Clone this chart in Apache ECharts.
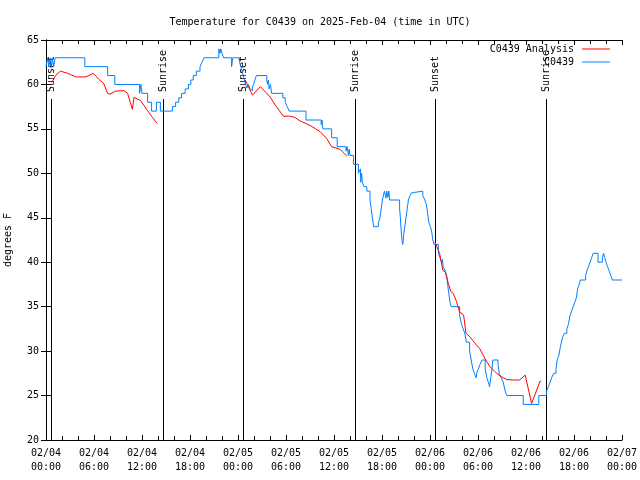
<!DOCTYPE html>
<html>
<head>
<meta charset="utf-8">
<script src="https://cdn.jsdelivr.net/npm/echarts@6/dist/echarts.min.js"></script>
<style>html,body{margin:0;padding:0;background:#fff}#c{width:640px;height:480px}</style>
</head>
<body>
<div id="c"></div>
<script>
// Hours since 02/04 00:00 UTC
const xTickLabels = ['02/04\n00:00','02/04\n06:00','02/04\n12:00','02/04\n18:00','02/05\n00:00','02/05\n06:00','02/05\n12:00','02/05\n18:00','02/06\n00:00','02/06\n06:00','02/06\n12:00','02/06\n18:00','02/07\n00:00'];
const yTicks = [20,25,30,35,40,45,50,55,60,65];

const sunTimes = [0.68, 14.67, 24.67, 38.67, 48.68, 62.55];
const sunLabels = ['Sunset','Sunrise','Sunset','Sunrise','Sunset','Sunrise'];

// Observations C0439 (step points [hour, degF])
const obsTemps = [
[0.0,62],[0.2,63],[0.35,62],[0.5,63],[0.65,62],[0.8,63],[0.95,62],[1.15,63],
[4.85,62],[7.7,61],[8.6,60],[11.7,59],[11.85,60],[12.0,59],[12.7,58],[13.2,57],[13.8,58],[14.3,57],
[15.8,57.5],[16.2,58],[16.6,58.5],[16.95,59],[17.4,59.5],[17.8,60],[18.1,60.5],[18.4,61],[18.8,61.5],[19.25,62],[19.5,62.5],[19.75,63],
[21.6,64],[21.75,63.5],[21.85,64],[22.0,63.5],[22.2,63],[23.2,62],[23.35,63],
[24.2,62.5],[24.35,62],[24.5,61.5],[24.65,61],[24.8,60.5],[24.95,60],[25.1,59.6],[25.3,60],[25.5,59.5],[25.65,59.3],[25.8,59.7],[25.95,60],[26.1,60.5],[26.3,61],
[27.6,60.5],[27.7,60],[27.8,60.5],[27.9,59.5],[28.05,60],[28.2,59],
[29.6,58.5],[29.9,58],[30.15,57.5],[30.4,57],[32.5,56],[34.4,55.5],[34.5,56],[34.6,55],[35.7,54],[36.4,53],
[37.5,52.5],[37.65,53],[37.8,52],[37.9,52.7],[38.0,52],[38.45,51],[39.05,50],[39.3,50.5],[39.35,49],[39.45,50],[39.55,49],[39.75,48.5],[40.1,48],
[40.5,47],[40.65,46],[40.8,45],[40.95,44],[41.55,44.5],[41.75,45],[41.9,46],[42.05,47],[42.3,48],[42.5,47.2],[42.6,48],[42.75,47.3],[42.85,48],[42.95,47],
[44.2,46],[44.3,45],[44.4,43.5],[44.5,42.5],[44.6,42],[44.7,43],[44.85,44],[45.0,45],[45.15,46],[45.3,47],[45.5,47.5],[45.7,47.8],[45.9,48],
[47.1,47.5],[47.35,47],[47.55,46.5],[47.7,45.5],[47.85,44.5],[48.05,44],[48.2,43.5],[48.35,42.5],[48.5,42],
[49.05,41],[49.25,40.5],[49.45,40],[49.55,40.3],[49.65,39.5],[49.9,39],[50.1,38.5],[50.2,37.5],[50.35,36.5],[50.5,35.5],[50.65,35],
[51.7,34],[51.95,33],[52.15,32.5],[52.35,32],[52.55,31],[52.95,30],[53.15,29],[53.35,28],[53.55,27.5],[53.75,27],[53.9,27.7],[54.05,28],[54.25,28.5],[54.5,29],
[54.9,28],[55.1,27],[55.3,26.5],[55.45,26],[55.6,27],[55.75,28],[55.85,29],
[56.5,28.5],[56.65,27.5],[56.9,27],[57.15,26.5],[57.4,25.5],[57.6,25],[59.65,24],[61.6,25],
[62.55,25.5],[62.8,26],[63.0,26.5],[63.2,27],[63.45,27.5],[63.75,28],[63.9,29],[64.1,29.5],[64.3,30.5],[64.55,31.5],[64.8,32],[65.1,32.5],[65.3,33],[65.5,34],[65.7,34.5],[65.9,35],[66.1,35.5],[66.3,36],[66.45,37],[66.65,37.5],[66.8,38],
[67.45,38.5],[67.6,39],[67.8,39.5],[68.0,40],[68.2,40.5],[68.4,41],[69.0,40],[69.55,40.5],[69.7,41],[69.85,40.5],[70.0,40],[70.2,39.5],[70.4,39],[70.6,38.5],[70.8,38],[72.0,38]
];

// Analysis segments [hour, degF]
const anaNight1 = [[0.7,60.2],[0.9,60.5],[1.2,61],[1.8,61.5],[2.7,61.25],[3.7,60.85],[5.0,60.85],[5.9,61.25],[6.6,60.6],[7.25,60.05],[7.7,59.0],[8.0,58.9],[8.7,59.25],[9.75,59.3],[10.2,59.0],[10.8,57.2],[11.0,58.55],[11.8,58.2],[12.7,57.05],[13.3,56.3],[13.9,55.6]];
const anaNight2 = [[24.9,60.5],[25.8,58.8],[26.8,59.75],[28.0,58.6],[28.8,57.5],[29.7,56.4],[30.3,56.45],[31.1,56.3],[31.75,55.9],[33.0,55.4],[34.25,54.7],[35.1,53.9],[35.7,53.0],[36.75,52.7],[37.6,51.95]];
const anaNight3 = [[48.6,42.3],[48.75,42.1],[49.2,41.0],[49.6,39.1],[49.9,38.9],[50.3,37.6],[50.6,36.7],[50.9,36.5],[51.3,35.6],[51.7,34.4],[52.2,34.06],[52.5,32.0],[53.0,31.6],[53.6,30.9],[54.2,30.3],[54.7,29.45],[55.1,28.8],[55.5,28.25],[56.1,27.7],[56.75,27.2],[57.6,26.8],[58.4,26.75],[59.2,26.75],[59.9,27.3],[60.1,27.2],[60.7,24.1],[60.9,24.2],[61.75,26.6],[61.9,26.6]];

const sunLineTop = 58.36;
const FONT = 'DejaVu Sans Mono';

const anaData = anaNight1.concat([[14.5,'-']], anaNight2, [[40,'-']], anaNight3);

const chart = echarts.init(document.getElementById('c'), null, {renderer:'canvas'});
const xCommon = {
  type:'value', min:0, max:72, interval:6,
  axisLine:{show:true, lineStyle:{color:'#000', width:1}},
  axisTick:{show:true, inside:true, length:5, lineStyle:{color:'#000'}},
  minorTick:{show:true, splitNumber:3, length:4, lineStyle:{color:'#000'}},
  splitLine:{show:false}, minorSplitLine:{show:false}
};
const yCommon = {
  type:'value', min:20, max:65, interval:5,
  axisLine:{show:true, lineStyle:{color:'#000', width:1}},
  axisTick:{show:true, inside:true, length:5, lineStyle:{color:'#000'}},
  splitLine:{show:false}
};
chart.setOption({
  animation:false,
  backgroundColor:'#fff',
  title:{text:'Temperature for C0439 on 2025-Feb-04 (time in UTC)', left:'center', top:12,
    textStyle:{fontFamily:FONT, fontSize:10, fontWeight:'normal', color:'#000'}},
  grid:{left:46, right:18, top:40, bottom:40, containLabel:false, outerBoundsMode:'none'},
  legend:[
    {data:['C0439 Analysis'], orient:'vertical', right:30, top:44, padding:0, align:'right',
     icon:'rect', itemWidth:28, itemHeight:1, textStyle:{fontFamily:FONT, fontSize:10, color:'#000', padding:[0,3,0,0]}},
    {data:['C0439'], orient:'vertical', right:30, top:57, padding:0, align:'right',
     icon:'rect', itemWidth:28, itemHeight:1, textStyle:{fontFamily:FONT, fontSize:10, color:'#000', padding:[0,3,0,0]}}
  ],
  xAxis:[
    Object.assign({}, xCommon, {position:'bottom',
      axisLabel:{show:true, margin:6, fontFamily:FONT, fontSize:10, color:'#000', lineHeight:14,
        formatter:function(v){ return xTickLabels[Math.round(v/6)]; }}}),
    Object.assign({}, xCommon, {position:'top', axisLabel:{show:false}})
  ],
  yAxis:[
    Object.assign({}, yCommon, {position:'left', name:'degrees F', nameLocation:'middle', nameGap:33,
      nameTextStyle:{fontFamily:FONT, fontSize:10, color:'#000'},
      axisLabel:{show:true, margin:7, fontFamily:FONT, fontSize:10, color:'#000',
        formatter:function(v){ return yTicks.indexOf(v) >= 0 ? String(v) : ''; }}}),
    Object.assign({}, yCommon, {position:'right', axisLabel:{show:false}})
  ],
  series:[
    {type:'custom', name:'sun', xAxisIndex:0, yAxisIndex:0, silent:true, z:1,
     data:sunTimes.map(function(t){ return [t, sunLineTop]; }),
     renderItem:function(params, api){
       var t = api.value(0);
       var top = api.coord([t, api.value(1)]);
       var bot = api.coord([t, 20]);
       return {type:'group', children:[
         {type:'line', shape:{x1:Math.round(top[0])+0.5, y1:top[1], x2:Math.round(top[0])+0.5, y2:bot[1]},
          style:{stroke:'#000', lineWidth:1}},
         {type:'text', x:Math.round(top[0])+0.5, y:top[1]-7, rotation:Math.PI/2,
          style:{text:sunLabels[params.dataIndex], fontFamily:FONT, fontSize:10, fill:'#000',
                 align:'left', verticalAlign:'middle'}}
       ]};
     }},
    {type:'line', name:'C0439 Analysis', data:anaData, showSymbol:false, symbol:'none', connectNulls:false,
     lineStyle:{color:'#ff0000', width:1}, itemStyle:{color:'#ff0000'}, z:3},
    {type:'line', name:'C0439', data:obsTemps, step:'end', showSymbol:false, symbol:'none',
     lineStyle:{color:'#0080ff', width:1}, itemStyle:{color:'#0080ff'}, z:2}
  ]
});
</script>
</body>
</html>
